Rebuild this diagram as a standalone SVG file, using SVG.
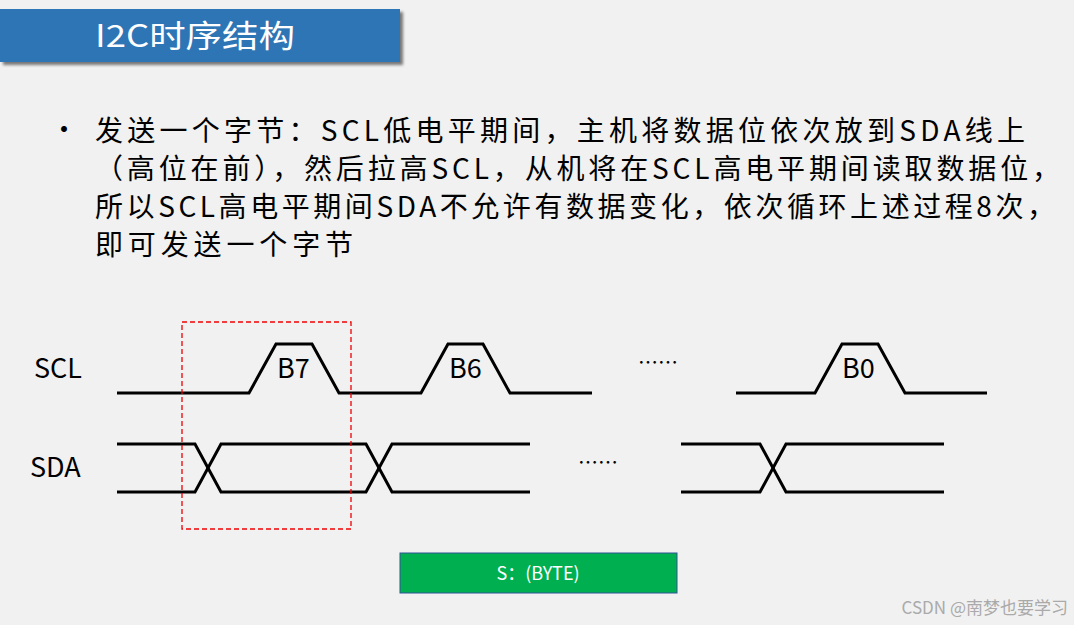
<svg xmlns="http://www.w3.org/2000/svg" width="1074" height="625" viewBox="0 0 1074 625">
<style>
.t{font-family:"Microsoft YaHei","Noto Sans CJK SC",sans-serif;fill:#000}
.w{fill:none;stroke:#000;stroke-width:3;stroke-linejoin:miter}
</style>
<defs><filter id="sh"><feDropShadow dx="3" dy="3" stdDeviation="1.5" flood-color="#777"/></filter></defs>
<rect width="1074" height="625" fill="#f1f1f1"/>
<g id="title"><rect x="0" y="9" width="400" height="53" fill="#2e75b6" filter="url(#sh)"/>
<text x="95" y="47" font-size="31" fill="#fff" textLength="200" lengthAdjust="spacingAndGlyphs" style="font-family:'Noto Sans CJK SC',sans-serif">I2C时序结构</text></g>
<g id="body" class="t" font-size="28">
<text x="50" y="140">•</text>
<text x="95" y="141" textLength="930" lengthAdjust="spacing">发送一个字节：SCL低电平期间，主机将数据位依次放到SDA线上</text>
<text x="95" y="179" textLength="965" lengthAdjust="spacing">（高位在前），然后拉高SCL，从机将在SCL高电平期间读取数据位，</text>
<text x="95" y="217" textLength="960" lengthAdjust="spacing">所以SCL高电平期间SDA不允许有数据变化，依次循环上述过程8次，</text>
<text x="95" y="255" textLength="258" lengthAdjust="spacing">即可发送一个字节</text>
</g>
<g id="labels" class="t" font-size="27">
<text x="34" y="378">SCL</text><text x="30" y="477">SDA</text>
<text x="277" y="378">B7</text><text x="449" y="378">B6</text><text x="842" y="378">B0</text>
<text x="638" y="370" font-size="20">……</text><text x="578" y="470" font-size="20">……</text>
</g>
<g id="connectors">
<polyline class="w" points="117,393 249,393 276,344 312,344 339,393 421,393 448,344 483,344 510,393 592,393"/>
<polyline class="w" points="736,393 815,393 842,344 878,344 905,393 987,393"/>
<polyline class="w" points="117,444 195,444 221,492 366,492 392,444 530,444"/>
<polyline class="w" points="117,492 195,492 221,444 366,444 392,492 530,492"/>
<polyline class="w" points="681,444 760,444 786,492 944,492"/>
<polyline class="w" points="681,492 760,492 786,444 944,444"/>
</g>
<g id="box"><rect x="182" y="322" width="169" height="207" fill="none" stroke="#e00" stroke-width="1.3" stroke-dasharray="5,3"/></g>
<g id="byte"><rect x="400" y="553" width="277" height="40" fill="#00b050" stroke="#2f5597" stroke-width="1"/>
<text x="538" y="580" font-size="18" fill="#fff" text-anchor="middle" style="font-family:'Noto Sans CJK SC',sans-serif">S：(BYTE)</text></g>
<text x="1068" y="614" font-size="17" fill="#aaa" text-anchor="end" style="font-family:'Noto Sans CJK SC',sans-serif">CSDN @南梦也要学习</text>
</svg>
